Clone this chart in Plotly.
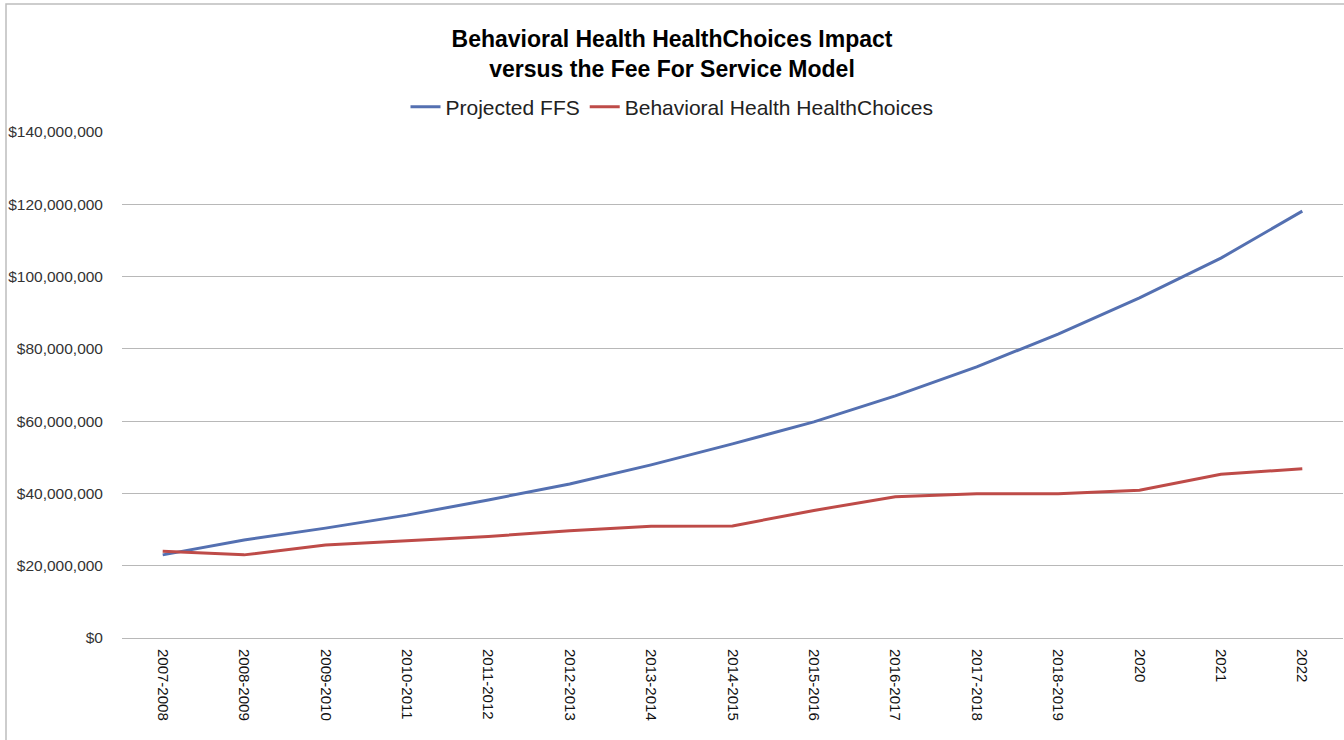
import plotly.graph_objects as go

categories = ["2007-2008", "2008-2009", "2009-2010", "2010-2011", "2011-2012",
              "2012-2013", "2013-2014", "2014-2015", "2015-2016", "2016-2017",
              "2017-2018", "2018-2019", "2020", "2021", "2022"]
projected_ffs = [23.0, 27.1, 30.4, 34.0, 38.2, 42.6, 47.9, 53.7, 59.8, 67.0,
                 75.0, 84.1, 94.1, 105.1, 118.1]
bh_healthchoices = [24.0, 23.0, 25.7, 26.8, 28.1, 29.7, 30.9, 31.0, 35.3, 39.1,
                    39.9, 39.9, 40.9, 45.3, 46.8]
projected_ffs = [v * 1e6 for v in projected_ffs]
bh_healthchoices = [v * 1e6 for v in bh_healthchoices]
y_ticks = [0, 20e6, 40e6, 60e6, 80e6, 100e6, 120e6, 140e6]
y_tick_labels = ["$0", "$20,000,000", "$40,000,000", "$60,000,000", "$80,000,000",
                 "$100,000,000", "$120,000,000", "$140,000,000"]

W, H = 1344, 740
ML, MR, MT, MB = 122, 1, 132, 102

fig = go.Figure()
fig.add_trace(go.Scatter(x=categories, y=projected_ffs, name="Projected FFS",
                         mode="lines", line=dict(color="#5470B1", width=3)))
fig.add_trace(go.Scatter(x=categories, y=bh_healthchoices,
                         name="Behavioral Health HealthChoices",
                         mode="lines", line=dict(color="#BE4B48", width=3)))

pw, ph = W - ML - MR, H - MT - MB
fig.add_shape(type="rect", xref="paper", yref="paper",
              x0=(6 - ML) / pw, x1=(W + 10 - ML) / pw,
              y0=-(H + 10 - (H - MB)) / ph,
              y1=(H - MB - 4) / ph,
              line=dict(color="#BDBDBD", width=1.5), layer="below")

fig.update_layout(
    width=W, height=H,
    margin=dict(l=ML, r=MR, t=MT, b=MB, autoexpand=False),
    paper_bgcolor="white", plot_bgcolor="white",
    font=dict(family="Liberation Sans", color="#000000", size=14),
    title=dict(text="<b>Behavioral Health HealthChoices Impact<br>versus the Fee For Service Model</b>",
               x=0.5, xref="container", xanchor="center", y=1 - 47 / H, yanchor="top",
               font=dict(size=23, family="Liberation Sans", color="#000000")),
    legend=dict(orientation="h", x=0.5, xref="container", xanchor="center",
                y=1 - 107 / H, yref="container", yanchor="middle",
                font=dict(size=21, family="Liberation Sans", color="#222222"),
                itemwidth=30, bgcolor="rgba(0,0,0,0)"),
    showlegend=True,
    xaxis=dict(type="category", range=[-0.5, len(categories) - 0.5],
               tickangle=90, tickfont=dict(size=15, color="#111111"),
               showgrid=False, showline=False, ticks="", zeroline=False,
               ticklabelstandoff=10),
    yaxis=dict(range=[0, 140e6], tickvals=y_ticks, ticktext=y_tick_labels,
               tickfont=dict(size=15.5, color="#333333"),
               showgrid=True, gridcolor="#B8B8B8", gridwidth=1,
               zeroline=True, zerolinecolor="#B8B8B8", zerolinewidth=1,
               showline=False, ticks="", ticklabelstandoff=18),
)

fig.write_html("out.html", config={"displayModeBar": False},
               post_script="document.body.style.margin='0';document.body.style.overflow='hidden';")
